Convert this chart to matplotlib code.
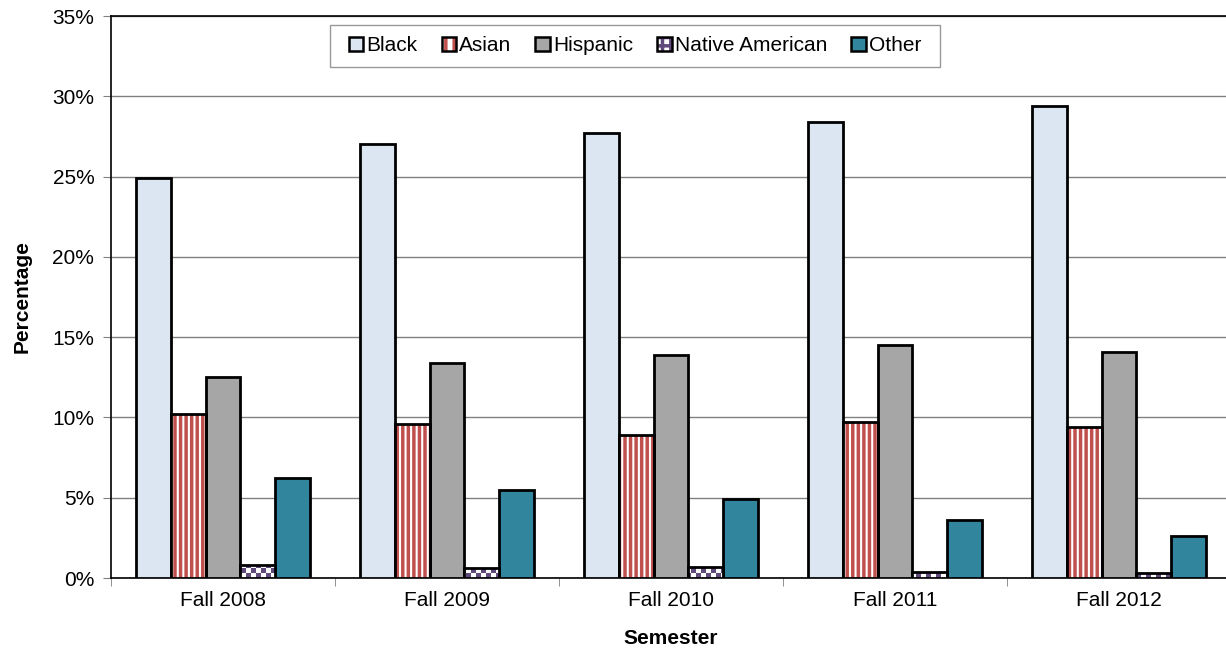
import matplotlib
matplotlib.use("Agg")
import matplotlib.pyplot as plt
import numpy as np
from matplotlib.patches import Patch
from matplotlib.path import Path
from matplotlib.colors import ListedColormap

plt.rcParams['font.family'] = ['Liberation Sans', 'DejaVu Sans']
plt.rcParams['hatch.linewidth'] = 2.5

semesters = ["Fall 2008", "Fall 2009", "Fall 2010", "Fall 2011", "Fall 2012"]
black = [24.9, 27.0, 27.7, 28.4, 29.4]
asian = [10.2, 9.6, 8.9, 9.7, 9.4]
hispanic = [12.5, 13.4, 13.9, 14.5, 14.1]
native = [0.8, 0.6, 0.7, 0.4, 0.3]
other = [6.2, 5.5, 4.9, 3.6, 2.6]

RED = "#c0504d"
PURPLE = "#604a7b"
series = [
    ("Black", black, dict(facecolor="#dce6f2")),
    ("Asian", asian, dict(facecolor="white", hatch="|||", hatch_edge=RED)),
    ("Hispanic", hispanic, dict(facecolor="#a6a6a6")),
    ("Native American", native, dict(facecolor="white", checker=PURPLE)),
    ("Other", other, dict(facecolor="#31859c")),
]

W, H = 1226, 649
fig = plt.figure(figsize=(W/100, H/100), dpi=100)
ax_l, ax_r, ax_t, ax_b = 111, 1231, 16, 578
ax = fig.add_axes([ax_l/W, 1-ax_b/H, (ax_r-ax_l)/W, (ax_b-ax_t)/H])

ax.set_ylim(0, 35)
ax.set_xlim(-0.5, 4.5)

x = np.arange(len(semesters))
w = 0.1545
handles = []
ncols, nrows = (ax_r-ax_l)//5, (ax_b-ax_t)//5
checker = (np.add.outer(np.arange(nrows), np.arange(ncols)) % 2).astype(float)
cmap_chk = ListedColormap(["white", PURPLE])

for i, (name, vals, st) in enumerate(series):
    pos = x + (i - 2) * w
    if "hatch" in st:
        ax.bar(pos, vals, w, facecolor=st["facecolor"], hatch=st["hatch"],
               edgecolor=st["hatch_edge"], linewidth=0, zorder=3)
        ax.bar(pos, vals, w, facecolor="none", edgecolor="black", linewidth=2, zorder=4)
        handles.append((Patch(facecolor=st["facecolor"], hatch="||", edgecolor=st["hatch_edge"], linewidth=0),
                        Patch(facecolor="none", edgecolor="black", linewidth=1.8)))
    elif "checker" in st:
        bars = ax.bar(pos, vals, w, facecolor="white", edgecolor="none", linewidth=0, zorder=3)
        for r in bars:
            im = ax.imshow(checker, cmap=cmap_chk, extent=(-0.5, 4.5, 0, 35), aspect="auto",
                           interpolation="nearest", zorder=3.5, origin="lower")
            im.set_clip_path(r)
        ax.bar(pos, vals, w, facecolor="none", edgecolor="black", linewidth=2, zorder=4)
        handles.append((Patch(facecolor="white", hatch="++", edgecolor=st["checker"], linewidth=0),
                        Patch(facecolor="none", edgecolor="black", linewidth=1.8)))
    else:
        ax.bar(pos, vals, w, facecolor=st["facecolor"], edgecolor="black", linewidth=2, zorder=3)
        handles.append(Patch(facecolor=st["facecolor"], edgecolor="black", linewidth=1.8))

ax.set_ylim(0, 35)
ax.set_xlim(-0.5, 4.5)
ax.set_yticks(np.arange(0, 36, 5))
ax.set_yticklabels([f"{v}%" for v in range(0, 36, 5)], fontsize=15)
ax.yaxis.grid(True, color="#808080", linewidth=1, zorder=0)
ax.set_axisbelow(True)
ax.set_xticks(x)
ax.set_xticklabels(semesters, fontsize=15)
ax.tick_params(axis='x', length=0, pad=9)
ax.set_xticks(np.arange(-0.5, 5, 1), minor=True)
ax.tick_params(axis='x', which='minor', length=6, color="#808080", direction='out')
ax.tick_params(axis='y', length=6, color="#808080", direction='out', pad=6)
for s in ax.spines.values():
    s.set_color("black")
    s.set_linewidth(1.2)

ax.set_xlabel("Semester", fontsize=15, fontweight="bold", labelpad=14)
ax.set_ylabel("Percentage", fontsize=15, fontweight="bold", labelpad=15)


class HPadSquare:
    """Square box with extra horizontal padding."""
    def __init__(self, hpad):
        self.hpad = hpad

    def __call__(self, x0, y0, width, height, mutation_size):
        p = self.hpad * mutation_size
        x0 -= p
        x1 = x0 + width + 2 * p
        y1 = y0 + height
        return Path([(x0, y0), (x1, y0), (x1, y1), (x0, y1), (x0, y0)], closed=True)


labels = [s[0] for s in series]
leg = ax.legend(handles=handles, labels=labels, loc="upper center",
                bbox_to_anchor=((635-ax_l)/(ax_r-ax_l), (ax_b-25)/(ax_b-ax_t)), ncol=5,
                fontsize=15, frameon=True, fancybox=False, edgecolor="#808080",
                handlelength=0.7, handleheight=0.7, handletextpad=0.15, columnspacing=1.15,
                borderpad=0.55, borderaxespad=0)
leg.get_frame().set_linewidth(1)
leg.legendPatch.set_boxstyle(HPadSquare(0.37))

fig.savefig("out.png", dpi=100, facecolor="white")
